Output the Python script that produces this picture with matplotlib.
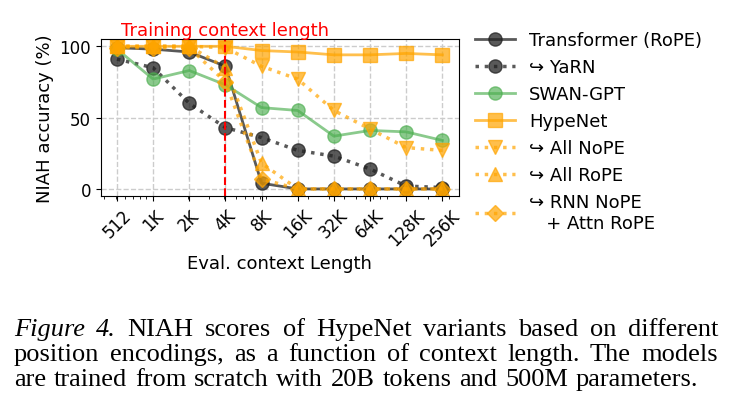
import matplotlib
matplotlib.use("Agg")
import matplotlib.pyplot as plt

# eval context lengths and NIAH accuracy (%)
ctx = [512, 1024, 2048, 4096, 8192, 16384, 32768, 65536, 131072, 262144]
ctx_labels = ["512", "1K", "2K", "4K", "8K", "16K", "32K", "64K", "128K", "256K"]

transformer = [99, 98, 96, 86, 4, 0, 0, 0, 0, 0]
yarn = [91, 85, 60, 43, 36, 27, 23, 14, 2, 1]
swan = [98, 77, 83, 73, 57, 55, 37, 41, 40, 34]
hypenet = [100, 100, 100, 100, 97, 96, 94, 94, 95, 94]
all_nope = [100, 100, 100, 99, 86, 77, 55, 42, 29, 27]
all_rope = [100, 100, 100, 85, 18, 0, 0, 0, 0, 0]
rnn_nope_attn_rope = [99, 99, 99, 75, 7, 0, 0, 0, 0, 0]

train_len = 4096

caption_lines = [
    "Figure 4. NIAH scores of HypeNet variants based on different",
    "position encodings, as a function of context length. The models",
    "are trained from scratch with 20B tokens and 500M parameters.",
]

plt.rcParams['font.family'] = ['DejaVu Sans']
plt.rcParams['font.size'] = 13

W, H = 735, 414
fig = plt.figure(figsize=(W / 100, H / 100), dpi=100)
ax = fig.add_axes([0.137, 0.524, 0.487, 0.379])

dark = "#222222"
green = "#4cae4f"
orange = "#ffa500"

ax.plot(ctx, transformer, "-o", color=dark, alpha=0.75, lw=2, ms=9.5, label="Transformer (RoPE)")
ax.plot(ctx, yarn, ":o", color=dark, alpha=0.75, lw=2.5, ms=9.5, label="↪ YaRN")
ax.plot(ctx, swan, "-o", color=green, alpha=0.65, lw=2, ms=9.5, label="SWAN-GPT")
ax.plot(ctx, hypenet, "-s", color=orange, alpha=0.7, lw=2, ms=9.5, label="HypeNet")
ax.plot(ctx, all_nope, ":v", color=orange, alpha=0.7, lw=2.5, ms=9.5, label="↪ All NoPE")
ax.plot(ctx, all_rope, ":^", color=orange, alpha=0.7, lw=2.5, ms=9.5, label="↪ All RoPE")
ax.plot(ctx, rnn_nope_attn_rope, ":D", color=orange, alpha=0.7, lw=2.5, ms=8.5,
        label="↪ RNN NoPE\n   + Attn RoPE")

ax.axvline(train_len, color="red", ls="--", lw=1.5)
ax.text(train_len, 1.027, "Training context length", color="red", ha="center", va="baseline",
        transform=ax.get_xaxis_transform(), fontsize=13)

ax.set_xscale("log")
ax.set_xticks(ctx)
ax.set_xticklabels(ctx_labels, rotation=45, fontsize=12)
ax.set_yticks([0, 50, 100])
ax.tick_params(axis="y", labelsize=12)
ax.grid(True, which="major", ls="--", color="#cccccc", lw=1)
ax.set_axisbelow(True)
ax.set_xlabel("Eval. context Length", fontsize=13)
ax.set_ylabel("NIAH accuracy (%)", fontsize=13)

ax.legend(loc="upper left", bbox_to_anchor=(1.0, 1.155), frameon=False, fontsize=13,
          handlelength=2.2, labelspacing=0.5)

# caption, justified word by word
serif = ["Liberation Serif"]
cap_size = 19
baselines = [336, 361, 386]
right_edges = [718, 718, 698]
left = 14
renderer = fig.canvas.get_renderer()
for line, yb, right in zip(caption_lines, baselines, right_edges):
    words = line.split(" ")
    texts = []
    for i, w in enumerate(words):
        italic = line.startswith("Figure") and i < 2
        texts.append(fig.text(0, 1 - yb / H, w, fontsize=cap_size, family=serif,
                              style="italic" if italic else "normal", va="baseline"))
    widths = [t.get_window_extent(renderer).width for t in texts]
    gap = (right - left - sum(widths)) / (len(texts) - 1)
    x = left
    for t, w in zip(texts, widths):
        t.set_x(x / W)
        x += w + gap

fig.savefig("out.png", dpi=100)
